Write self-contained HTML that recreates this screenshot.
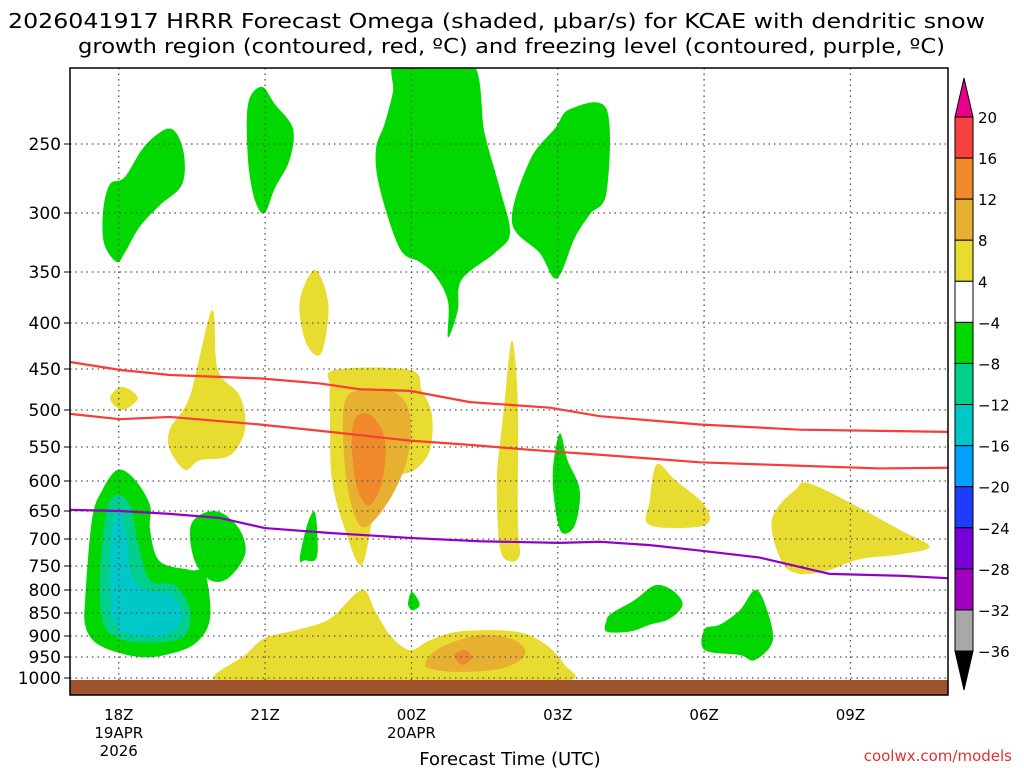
<!DOCTYPE html>
<html><head><meta charset="utf-8"><style>
body{margin:0;background:#fff;width:1024px;height:768px;overflow:hidden;font-family:"DejaVu Sans","Liberation Sans",sans-serif}
svg{display:block}
</style></head><body>
<svg id="chart" width="1024" height="768" xmlns="http://www.w3.org/2000/svg" font-family="DejaVu Sans, Liberation Sans, sans-serif">
<text x="8" y="28" font-size="20" textLength="977" lengthAdjust="spacingAndGlyphs">2026041917 HRRR Forecast Omega (shaded, μbar/s) for KCAE with dendritic snow</text>
<text x="78" y="53" font-size="20" textLength="867" lengthAdjust="spacingAndGlyphs">growth region (contoured, red, ºC) and freezing level (contoured, purple, ºC)</text>
<defs><clipPath id="pc"><rect x="70" y="68" width="878" height="627"/></clipPath></defs>
<g id="shades" clip-path="url(#pc)"></g>
<g id="grid"></g>
<g id="lines" clip-path="url(#pc)"></g>
<rect x="70" y="680" width="878" height="15" fill="#a0522d"/>
<rect x="70" y="68" width="878" height="627" fill="none" stroke="#000" stroke-width="1.5"/>
<g id="axes"></g>
<g id="cbar"></g>
<text x="510" y="765" font-size="18" text-anchor="middle">Forecast Time (UTC)</text>
<text x="1012" y="761" font-size="15" fill="#e03030" text-anchor="end">coolwx.com/models</text>
</svg>
<script>
const pTicks=[250,300,350,400,450,500,550,600,650,700,750,800,850,900,950,1000];
const hourTicks=[18,21,24,27,30,33];
const hourLabels=["18Z","21Z","00Z","03Z","06Z","09Z"];
const dateLabels={18:["19APR","2026"],24:["20APR"]};
const cbLevels=[20,16,12,8,4,-4,-8,-12,-16,-20,-24,-28,-32,-36];
const cbColors=["#f84040","#f0882c","#e8b030","#e8dc30","#ffffff","#00d800","#00d08c","#00c8c8","#00a0ff","#1e3cff","#7800d8","#a000c0","#a8a8a8"];
const redUpper=[[17,442],[18.02,451],[19.05,457],[20.89,461],[22.12,467],[22.94,474],[23.97,476],[25.2,490],[26.84,497],[27.86,508],[29.91,519],[31.96,526],[35,529]];
const redLower=[[17,505],[18.02,512],[19.05,509],[20.89,519],[22.33,529],[23.97,541],[25.2,547],[26.43,554],[27.86,561],[29.91,572],[31.96,577],[33.6,581],[35,580]];
const freezing=[[17,648],[18.02,650],[19.05,655],[20.07,662],[20.99,680],[22.33,689],[23.97,698],[25.4,704],[27.04,707],[27.86,705],[28.89,711],[29.91,721],[31.14,734],[31.96,752],[32.57,766],[34.01,770],[35,775]];
const G="#00d800",Y="#e8dc30",D="#e8b030",O="#f0882c",T="#00d08c",C="#00c8c8";
const blobs=[
[G,[[17.68,298],[17.82,278],[18.12,273],[18.54,251],[19.05,240],[19.32,254],[19.3,278],[18.84,294],[18.43,311],[18.12,333],[17.96,341],[17.7,325]]],
[G,[[20.65,225],[20.93,215],[21.2,225],[21.57,240],[21.5,261],[21.2,281],[20.99,300],[20.79,290],[20.65,261]]],
[G,[[23.72,200],[25.2,200],[25.5,243],[25.81,281],[26.02,316],[25.71,333],[25.03,357],[24.95,387],[24.75,415],[24.75,378],[24.48,353],[24.17,341],[23.76,329],[23.35,281],[23.27,254],[23.45,237],[23.62,218]]],
[G,[[26.06,307],[26.43,261],[26.94,240],[27.25,228],[28,228],[28,284],[27.66,301],[27.35,320],[26.98,356],[26.63,333]]],
[Y,[[21.71,378],[22.02,348],[22.29,378],[22.23,418],[22.08,435],[21.82,418]]],
[Y,[[17.82,485],[18.07,471],[18.39,485],[18.07,500]]],
[Y,[[19.05,525],[19.46,482],[19.91,387],[20.03,451],[20.48,482],[20.59,525],[20.28,562],[19.66,569],[19.36,583],[19.05,554]]],
[Y,[[22.33,471],[22.43,451],[23.97,451],[24.21,475],[24.42,506],[24.38,554],[24.07,583],[23.56,598],[23.25,648],[22.98,748],[22.64,683],[22.37,598],[22.33,512]]],
[D,[[22.64,489],[22.94,475],[23.66,478],[23.97,506],[23.93,562],[23.66,615],[23.25,665],[22.94,675],[22.7,615],[22.6,538]]],
[O,[[22.84,512],[23.15,506],[23.45,538],[23.41,598],[23.15,640],[22.9,615],[22.78,554]]],
[Y,[[25.91,489],[26.06,418],[26.18,489],[26.18,665],[26.22,728],[26.02,741],[25.81,714],[25.75,598],[25.85,525]]],
[G,[[26.9,583],[27.04,531],[27.2,569],[27.45,615],[27.35,675],[27.08,688],[26.94,640]]],
[Y,[[28.89,631],[29.03,575],[29.4,598],[30.01,640],[30.01,675],[28.89,675]]],
[Y,[[31.39,665],[31.86,615],[32.27,607],[34.01,683],[34.62,714],[34.01,728],[33.19,737],[32.57,758],[31.96,766],[31.59,741]]],
[G,[[21.71,737],[21.86,675],[22.02,652],[22.08,714],[22.02,739],[21.82,739]]],
[G,[[19.46,683],[19.66,657],[20.07,652],[20.48,683],[20.59,728],[20.24,775],[19.87,779],[19.56,741]]],
[G,[[17.31,821],[17.45,665],[17.66,615],[17.98,583],[18.33,598],[18.64,640],[18.64,683],[18.84,741],[19.46,758],[19.77,766],[19.87,862],[19.56,918],[18.95,945],[18.43,950],[17.82,933],[17.47,910],[17.31,875]]],
[T,[[17.61,800],[17.72,665],[17.92,623],[18.23,640],[18.39,705],[18.64,779],[19.15,790],[19.46,844],[19.36,898],[18.84,914],[18.12,910],[17.72,880]]],
[C,[[17.82,779],[17.86,683],[18.02,648],[18.19,705],[18.23,758],[18.54,800],[19.09,810],[19.3,862],[18.95,898],[18.23,898],[17.88,862]]],
[Y,[[19.97,1005],[20.59,945],[21,905],[21.71,885],[22.33,862],[22.98,800],[23.25,844],[23.56,898],[23.97,933],[24.38,910],[24.99,890],[26.12,890],[26.73,918],[27.14,968],[27.25,1005],[25.4,1010],[21.71,1008]]],
[D,[[24.28,968],[24.58,928],[25.4,898],[26.12,910],[26.33,945],[25.91,975],[25.2,985],[24.58,982]]],
[O,[[24.89,945],[25.1,933],[25.24,952],[25.03,968]]],
[G,[[23.93,831],[24.01,804],[24.17,831],[24.03,844]]],
[G,[[28,866],[28.1,851],[28.58,821],[28.99,790],[29.34,800],[29.56,831],[29.3,862],[28.89,875],[28.48,890],[28,890]]],
[G,[[30.01,885],[30.32,875],[30.73,844],[31.04,800],[31.25,831],[31.41,910],[31.04,957],[30.73,945],[30.01,933]]]
];
const tickY=[144,213,272,323,369,410,447,481,511,539,566,590,613,636,657,678];
function yOf(p){
  const L=Math.log;
  if(p<=pTicks[0]) return tickY[0]-(L(pTicks[0])-L(p))/(L(300)-L(250))*(tickY[1]-tickY[0]);
  for(let i=1;i<pTicks.length;i++){ if(p<=pTicks[i]){const t=(L(p)-L(pTicks[i-1]))/(L(pTicks[i])-L(pTicks[i-1]));return tickY[i-1]+t*(tickY[i]-tickY[i-1]);} }
  const n=pTicks.length-1;return tickY[n]+(L(p)-L(pTicks[n]))/(L(1000)-L(950))*(tickY[n]-tickY[n-1]);
}
function xOf(h){return 70+(h-17)*(878/18);}
const NS="http://www.w3.org/2000/svg";
function mk(tag,attrs,parent){const e=document.createElementNS(NS,tag);for(const k in attrs)e.setAttribute(k,attrs[k]);parent.appendChild(e);return e;}
function smoothClosed(pts){
  const n=pts.length;let d=`M${pts[0][0]},${pts[0][1]}`;
  for(let i=0;i<n;i++){const p0=pts[(i-1+n)%n],p1=pts[i],p2=pts[(i+1)%n],p3=pts[(i+2)%n];
    d+=`C${p1[0]+(p2[0]-p0[0])/6},${p1[1]+(p2[1]-p0[1])/6} ${p2[0]-(p3[0]-p1[0])/6},${p2[1]-(p3[1]-p1[1])/6} ${p2[0]},${p2[1]}`;}
  return d+"Z";
}
const shades=document.getElementById('shades');
blobs.forEach((b,i)=>{
  const pts=b[1].map(q=>[xOf(q[0]),yOf(q[1])]);
  const e=mk('path',{d:smoothClosed(pts),fill:b[0]},shades);
  
  
});
const grid=document.getElementById('grid'),axes=document.getElementById('axes');
pTicks.forEach(p=>{
  const y=yOf(p);
  const l=mk('line',{x1:70,x2:948,y1:y,y2:y,stroke:'#555','stroke-width':1.3,'stroke-dasharray':'1.5,4'},grid);
  
  
  mk('line',{x1:70,x2:64,y1:y,y2:y,stroke:'#000'},axes);
  const t=mk('text',{x:61,y:y+6,'font-size':17,'text-anchor':'end'},axes);t.textContent=p;
  
  
});
hourTicks.forEach((h,i)=>{
  const x=xOf(h);
  const l=mk('line',{x1:x,x2:x,y1:68,y2:680,stroke:'#555','stroke-width':1.3,'stroke-dasharray':'1.5,4'},grid);
  
  
  const t=mk('text',{x:x,y:720,'font-size':15,'text-anchor':'middle'},axes);t.textContent=hourLabels[i];
  
  
  (dateLabels[h]||[]).forEach((s,j)=>{const d=mk('text',{x:x,y:738+18*j,'font-size':15,'text-anchor':'middle'},axes);d.textContent=s;
    
    });
});
const lines=document.getElementById('lines');
[[redUpper,'#f83c3c','dgz-upper'],[redLower,'#f83c3c','dgz-lower'],[freezing,'#9000c8','freezing-level']].forEach(s=>{
  const e=mk('polyline',{points:s[0].map(q=>xOf(q[0])+','+yOf(q[1])).join(' '),fill:'none',stroke:s[1],'stroke-width':2.2},lines);
  
  
});
const cb=document.getElementById('cbar');
const cbX=955,cbW=18,cbTop=117,cbStep=(651-117)/(cbLevels.length-1);
mk('polygon',{points:`${cbX},${cbTop} ${cbX+cbW},${cbTop} ${cbX+cbW/2},78`,fill:'#e8008c',stroke:'#000'},cb);
mk('polygon',{points:`${cbX},651 ${cbX+cbW},651 ${cbX+cbW/2},690`,fill:'#000',stroke:'#000'},cb);
cbColors.forEach((c,i)=>{
  const r=mk('rect',{x:cbX,y:cbTop+i*cbStep,width:cbW,height:cbStep,fill:c,stroke:'#000','stroke-width':1},cb);
  
  
});
cbLevels.forEach((v,i)=>{
  const t=mk('text',{x:978,y:cbTop+i*cbStep+6,'font-size':15},cb);t.textContent=v<0?'−'+(-v):v;
  
  
});
</script>
</body></html>
